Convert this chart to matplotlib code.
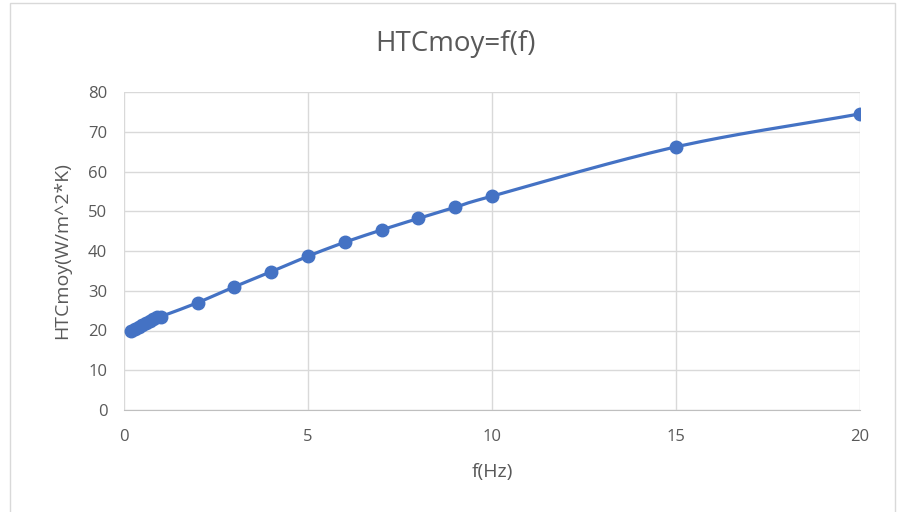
import numpy as np
import matplotlib.pyplot as plt
from matplotlib.patches import Rectangle

# Data
freq = [0.2, 0.3, 0.4, 0.5, 0.6, 0.7, 0.8, 0.9, 1, 2, 3, 4, 5, 6, 7, 8, 9, 10, 15, 20]
htc = [20.0, 20.5, 21.0, 21.5, 22.0, 22.5, 23.0, 23.3, 23.5, 27.0, 31.0, 34.8,
       38.7, 42.2, 45.3, 48.2, 51.0, 53.8, 66.2, 74.5]
x_ticks = [0, 5, 10, 15, 20]
y_ticks = [0, 10, 20, 30, 40, 50, 60, 70, 80]


def smooth(xs, ys, n=30):
    # Catmull-Rom curve through the points, like Excel's smoothed line
    xs = np.asarray(xs, float)
    ys = np.asarray(ys, float)
    px = np.concatenate([[2 * xs[0] - xs[1]], xs, [2 * xs[-1] - xs[-2]]])
    py = np.concatenate([[2 * ys[0] - ys[1]], ys, [2 * ys[-1] - ys[-2]]])
    outx, outy = [], []
    t = np.linspace(0, 1, n)
    for i in range(1, len(px) - 2):
        for p, out in ((px, outx), (py, outy)):
            p0, p1, p2, p3 = p[i - 1], p[i], p[i + 1], p[i + 2]
            out.extend(0.5 * (2 * p1 + (-p0 + p2) * t
                              + (2 * p0 - 5 * p1 + 4 * p2 - p3) * t ** 2
                              + (-p0 + 3 * p1 - 3 * p2 + p3) * t ** 3))
    return outx, outy


plt.rcParams['font.family'] = ['Open Sans', 'DejaVu Sans']
txt = '#595959'
blue = '#4472C4'

fig = plt.figure(figsize=(8.98, 5.12), dpi=100)
fig.patches.append(Rectangle((9.5 / 898, -0.01), 885 / 898, 509 / 512 + 0.01, transform=fig.transFigure,
                             fill=False, edgecolor='#d9d9d9', linewidth=1))
ax = fig.add_axes([124 / 898, 102 / 512, 736 / 898, 318 / 512])

sx, sy = smooth(freq, htc)
ax.plot(sx, sy, color=blue, linewidth=2.3, zorder=3)
ax.plot(freq, htc, 'o', color=blue, markersize=9, zorder=4)

ax.set_xlim(0, 20)
ax.set_ylim(0, 80)
ax.set_xticks(x_ticks)
ax.set_yticks(y_ticks)
ax.grid(True, color='#d9d9d9', linewidth=1)
ax.set_axisbelow(True)
for s in ('top', 'right', 'left'):
    ax.spines[s].set_visible(False)
ax.spines['bottom'].set_color('#bfbfbf')
ax.tick_params(length=0, colors=txt, labelsize=12)
ax.tick_params(axis='y', pad=12)
ax.tick_params(axis='x', pad=14)

fig.text(456 / 898, 1 - 44 / 512, 'HTCmoy=f(f)', fontsize=20, color=txt,
         ha='center', va='center')
fig.text(492 / 898, 1 - 472 / 512, 'f(Hz)', fontsize=14, color=txt,
         ha='center', va='center')
fig.text(62 / 898, 1 - 251 / 512, 'HTCmoy(W/m^2*K)', fontsize=14, color=txt,
         ha='center', va='center', rotation=90)

fig.savefig('out.png', dpi=100)
